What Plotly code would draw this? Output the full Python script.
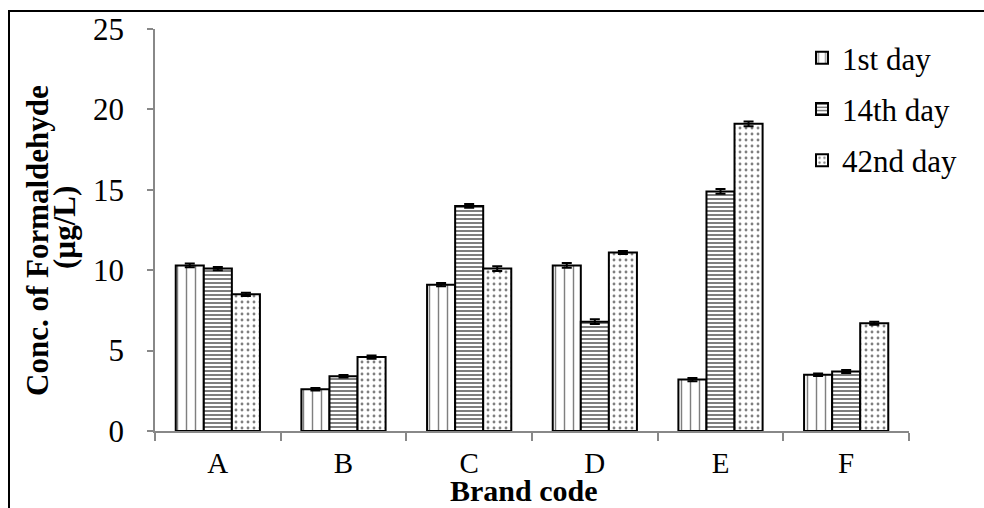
import plotly.graph_objects as go

categories = ["A", "B", "C", "D", "E", "F"]
series_names = ["1st day", "14th day", "42nd day"]
day1 = [10.3, 2.6, 9.1, 10.3, 3.2, 3.5]
day14 = [10.1, 3.4, 14.0, 6.8, 14.9, 3.7]
day42 = [8.5, 4.6, 10.1, 11.1, 19.1, 6.7]
err1 = [0.12, 0.08, 0.1, 0.15, 0.1, 0.08]
err14 = [0.1, 0.08, 0.12, 0.15, 0.15, 0.1]
err42 = [0.1, 0.1, 0.15, 0.1, 0.15, 0.1]
y_ticks = [0, 5, 10, 15, 20, 25]

FONT = "Liberation Serif, Times New Roman, serif"

patterns = [
    dict(shape="|", size=9, solidity=0.16, fgcolor="black", bgcolor="white"),
    dict(shape="-", size=4, solidity=0.5, fgcolor="black", bgcolor="white"),
    dict(shape=".", size=6, solidity=0.18, fgcolor="black", bgcolor="white"),
]

fig = go.Figure()
for i, (name, vals, errs) in enumerate(zip(series_names, [day1, day14, day42], [err1, err14, err42])):
    fig.add_trace(go.Bar(
        x=categories, y=vals, name=name, legendgroup=name,
        marker=dict(color="white", pattern=patterns[i], line=dict(color="black", width=2)),
        error_y=dict(type="data", array=errs, visible=True, color="black", thickness=2, width=5),
    ))

PL, PR, PT, PB = 155, 909, 29, 431
PW, PH = PR - PL, PB - PT

def px_x(v):
    return (v - PL) / PW

def px_y(v):
    return (PB - v) / PH

fig.update_layout(
    width=984, height=508,
    margin=dict(l=PL, r=984 - PR, t=PT, b=508 - PB),
    paper_bgcolor="white", plot_bgcolor="white",
    barmode="group", bargap=0.33, bargroupgap=0,
    font=dict(family=FONT, size=28, color="black"),
    showlegend=True,
    legend=dict(x=px_x(802), y=px_y(31), xanchor="left", yanchor="top",
                font=dict(family=FONT, size=31), tracegroupgap=8,
                itemwidth=30, bgcolor="rgba(0,0,0,0)"),
    xaxis=dict(showline=True, linecolor="#888888", linewidth=1.5,
               ticks="outside", tickcolor="#888888", ticklen=8, tickwidth=1.5,
               tickson="boundaries", showgrid=False, ticklabelstandoff=5,
               tickfont=dict(family=FONT, size=29)),
    yaxis=dict(range=[0, 25], tickvals=y_ticks, showline=True, linecolor="#888888",
               linewidth=1.5, ticks="outside", tickcolor="#888888", ticklen=6,
               tickwidth=1.5, showgrid=False, zeroline=False, ticklabelstandoff=17,
               tickfont=dict(family=FONT, size=31)),
    annotations=[
        dict(text="<b>Conc. of Formaldehyde</b>", textangle=-90,
             xref="paper", yref="paper", x=px_x(37), y=px_y(241),
             xanchor="center", yanchor="middle", showarrow=False,
             font=dict(family=FONT, size=31)),
        dict(text="<b>(µg/L)</b>", textangle=-90,
             xref="paper", yref="paper", x=px_x(64), y=px_y(228),
             xanchor="center", yanchor="middle", showarrow=False,
             font=dict(family=FONT, size=31)),
        dict(text="<b>Brand code</b>", xref="paper", yref="paper",
             x=px_x(524), y=px_y(490), xanchor="center", yanchor="middle",
             showarrow=False, font=dict(family=FONT, size=30)),
    ],
    shapes=[
        dict(type="rect", xref="paper", yref="paper",
             x0=px_x(9), x1=2, y0=-2, y1=px_y(11),
             line=dict(color="black", width=2), fillcolor="rgba(0,0,0,0)", layer="above"),
    ],
)

fig.write_html("out.html", config={"displayModeBar": False},
               post_script="document.body.style.margin='0px';")
